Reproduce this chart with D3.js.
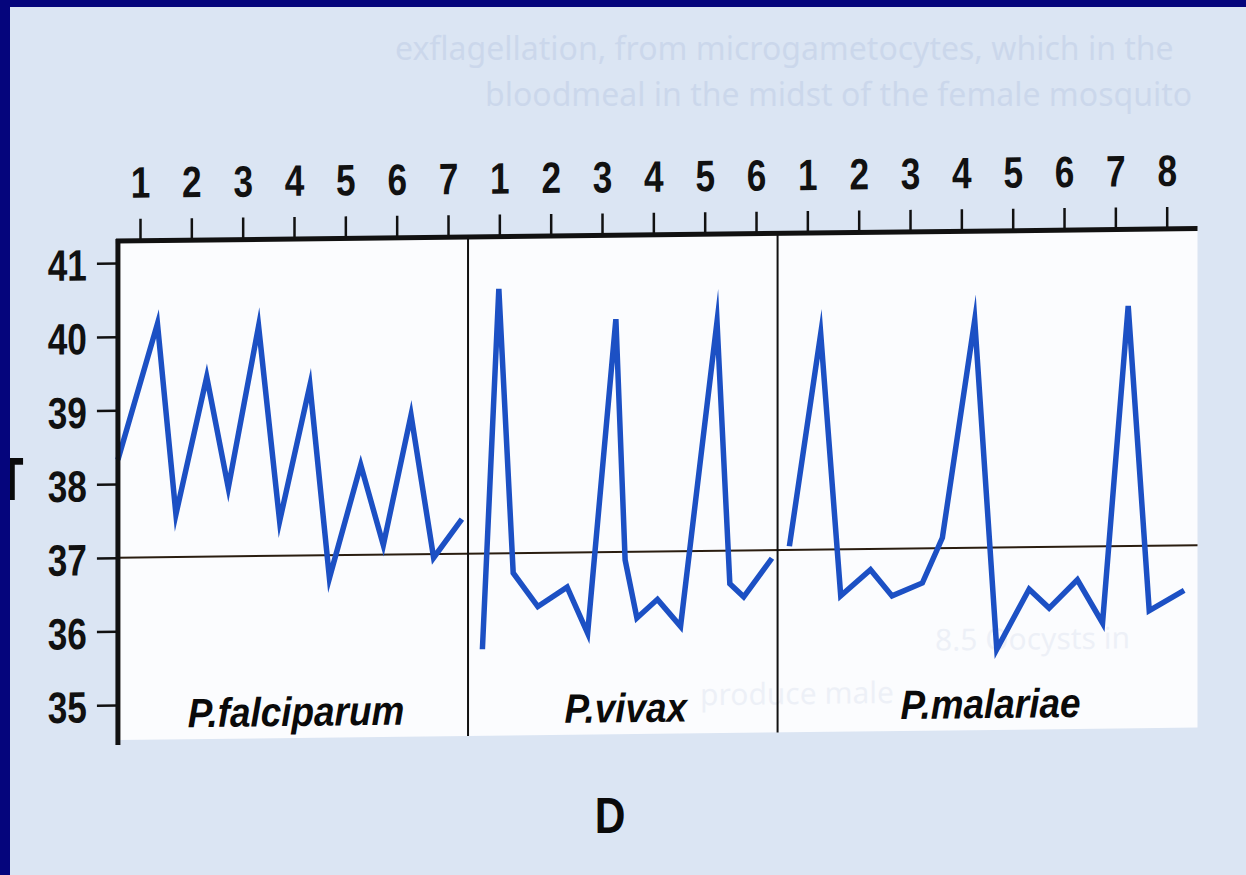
<!DOCTYPE html>
<html>
<head>
<meta charset="utf-8">
<script src="https://d3js.org/d3.v7.min.js"></script>
<style>
  body { margin: 0; background: #dce6f2; overflow: hidden; }
  svg { display: block; }
</style>
</head>
<body>
<div id="chart"></div>
<script>
// fever curves of the three malaria species
// day = day of illness inside each panel, temp in degrees C
var species = ["P.falciparum", "P.vivax", "P.malariae"];
var dayCounts = [7, 6, 8];
var panelStart = [0.57, 7.39, 13.42];   // panel edges, counted in days from the first tick
var panelEnd = 21.6;
var tempTicks = [35, 36, 37, 38, 39, 40, 41];
var normalTemp = 37;

var falciparumDays  = [0.57, 1.34, 1.70, 2.30, 2.72, 3.31, 3.72, 4.31, 4.69, 5.30, 5.74, 6.28, 6.72, 7.27];
var falciparumTemps = [38.33, 40.17, 37.58, 39.44, 37.93, 40.12, 37.47, 39.31, 36.69, 38.22, 37.13, 38.89, 36.95, 37.47];

var vivaxDays  = [0.67, 0.99, 1.27, 1.75, 2.32, 2.72, 3.27, 3.45, 3.68, 4.08, 4.53, 5.24, 5.49, 5.76, 6.31];
var vivaxTemps = [35.70, 40.59, 36.73, 36.27, 36.53, 35.90, 40.16, 36.89, 36.10, 36.35, 35.98, 40.11, 36.55, 36.37, 36.89];

var malariaeDays  = [0.65, 1.26, 1.65, 2.23, 2.65, 3.24, 3.63, 4.26, 4.69, 5.32, 5.71, 6.26, 6.75, 7.25, 7.66, 8.34];
var malariaeTemps = [37.05, 39.93, 36.37, 36.72, 36.36, 36.53, 37.14, 40.09, 35.62, 36.43, 36.17, 36.55, 35.96, 40.26, 36.12, 36.39];

var seriesDays = [falciparumDays, vivaxDays, malariaeDays];
var seriesTemps = [falciparumTemps, vivaxTemps, malariaeTemps];

var width = 1246, height = 875;
var sans = "'Liberation Sans', Arial, sans-serif";
var narrow = 0.8;   // the book uses a condensed face, squeeze Arial

var svg = d3.select("#chart")
  .append("svg")
  .attr("width", width)
  .attr("height", height);

svg.append("rect")
  .attr("width", width)
  .attr("height", height)
  .attr("fill", "#dbe5f3");

// page text showing through the scan
var ghost = svg.append("g")
  .attr("fill", "#a9badb")
  .attr("opacity", 0.3)
  .style("font-family", "'Noto Sans', sans-serif")
  .style("font-size", "32px");
ghost.append("text").attr("x", 395).attr("y", 60).text("exflagellation, from microgametocytes, which in the");
ghost.append("text").attr("x", 485).attr("y", 106).text("bloodmeal in the midst of the female mosquito");

// day offsets of each panel on the shared x scale
var offsets = [0];
for (var i = 1; i < dayCounts.length; i++) offsets.push(offsets[i - 1] + dayCounts[i - 1]);

var x = d3.scaleLinear()
  .domain([1, 21])
  .range([140, 1166.7]);

var y = d3.scaleLinear()
  .domain([35, 41])
  .range([705, 263]);

var plotTop = 241, plotBottom = 740;

// the scan is a little tilted, right side higher
var g = svg.append("g")
  .attr("transform", "translate(118,0) skewY(-0.66) translate(-118,0)");

g.append("rect")
  .attr("x", x(panelStart[0]))
  .attr("y", plotTop)
  .attr("width", x(panelEnd) - x(panelStart[0]))
  .attr("height", plotBottom - plotTop)
  .attr("fill", "#fbfcfe");

var ghost2 = g.append("g")
  .attr("fill", "#8fa3c6")
  .attr("opacity", 0.12)
  .style("font-family", "'Noto Sans', sans-serif")
  .style("font-size", "30px");
ghost2.append("text").attr("x", 935).attr("y", 660).text("8.5 Oocysts in");
ghost2.append("text").attr("x", 700).attr("y", 712).text("produce male");

// normal temperature
g.append("line")
  .attr("x1", x(panelStart[0]))
  .attr("x2", x(panelEnd))
  .attr("y1", y(normalTemp))
  .attr("y2", y(normalTemp))
  .attr("stroke", "#2a1d10")
  .attr("stroke-width", 2);

// panel dividers
g.selectAll(".divider")
  .data(panelStart.slice(1))
  .enter()
  .append("line")
    .attr("class", "divider")
    .attr("x1", function(d) { return x(d); })
    .attr("x2", function(d) { return x(d); })
    .attr("y1", plotTop)
    .attr("y2", plotBottom)
    .attr("stroke", "#111")
    .attr("stroke-width", 2);

// temperature curves
var line = d3.line()
  .x(function(d) { return x(d[0]); })
  .y(function(d) { return y(d[1]); });

species.forEach(function(name, k) {
  var pts = seriesDays[k].map(function(d, j) { return [offsets[k] + d, seriesTemps[k][j]]; });
  g.append("path")
    .datum(pts)
    .attr("d", line)
    .attr("fill", "none")
    .attr("stroke", "#1c50c4")
    .attr("stroke-width", 5.5)
    .attr("stroke-linejoin", "miter")
    .attr("stroke-miterlimit", 12);
});

// top axis: days, restarting in each panel
var dayTicks = [], dayLabels = {};
dayCounts.forEach(function(n, k) {
  for (var d = 1; d <= n; d++) {
    dayTicks.push(offsets[k] + d);
    dayLabels[offsets[k] + d] = d;
  }
});

var xAxis = g.append("g")
  .attr("transform", "translate(0," + plotTop + ")")
  .call(d3.axisTop(x)
    .tickValues(dayTicks)
    .tickFormat(function(d) { return dayLabels[d]; })
    .tickSize(22)
    .tickSizeOuter(0)
    .tickPadding(21));
xAxis.select(".domain").remove();

var yAxis = g.append("g")
  .attr("transform", "translate(" + x(panelStart[0]) + ",0)")
  .call(d3.axisLeft(y)
    .tickValues(tempTicks)
    .tickFormat(d3.format("d"))
    .tickSize(21)
    .tickPadding(10));
yAxis.select(".domain").remove();

g.selectAll(".tick line")
  .attr("stroke", "#111")
  .attr("stroke-width", 2.5);
g.selectAll(".tick text")
  .attr("fill", "#111")
  .attr("transform", "scale(" + narrow + ",1)")
  .style("font-family", sans)
  .style("font-weight", "bold")
  .style("font-size", "44px");
yAxis.selectAll(".tick text")
  .attr("x", -31 / narrow)
  .attr("dy", "0.38em");

// frame: thick top and left edges
g.append("line")
  .attr("x1", x(panelStart[0]) - 2)
  .attr("x2", x(panelEnd))
  .attr("y1", plotTop)
  .attr("y2", plotTop)
  .attr("stroke", "#111")
  .attr("stroke-width", 5);
g.append("line")
  .attr("x1", x(panelStart[0]))
  .attr("x2", x(panelStart[0]))
  .attr("y1", plotTop - 2)
  .attr("y2", plotBottom + 5)
  .attr("stroke", "#111")
  .attr("stroke-width", 5);

// species names
g.selectAll(".species")
  .data(species)
  .enter()
  .append("text")
    .attr("class", "species")
    .attr("transform", function(d, k) {
      var end = k < species.length - 1 ? panelStart[k + 1] : panelEnd;
      return "translate(" + (x((panelStart[k] + end) / 2) + 3) + ",728) scale(0.9,1)";
    })
    .attr("text-anchor", "middle")
    .attr("fill", "#0a0a0a")
    .style("font-family", sans)
    .style("font-weight", "bold")
    .style("font-style", "italic")
    .style("font-size", "41px")
    .text(function(d) { return d; });

// axis titles
svg.append("text")
  .attr("transform", "translate(610,833) scale(0.85,1)")
  .attr("text-anchor", "middle")
  .attr("fill", "#0a0a0a")
  .style("font-family", sans)
  .style("font-weight", "bold")
  .style("font-size", "50px")
  .text("D");

svg.append("text")
  .attr("transform", "translate(12,500) scale(0.6,1)")
  .attr("text-anchor", "middle")
  .attr("fill", "#0a0a0a")
  .style("font-family", sans)
  .style("font-weight", "bold")
  .style("font-size", "62px")
  .text("T");

// slide frame
svg.append("rect")
  .attr("width", width)
  .attr("height", 7)
  .attr("fill", "#05057c");
svg.append("rect")
  .attr("width", 10)
  .attr("height", height)
  .attr("fill", "#05057c");
</script>
</body>
</html>
